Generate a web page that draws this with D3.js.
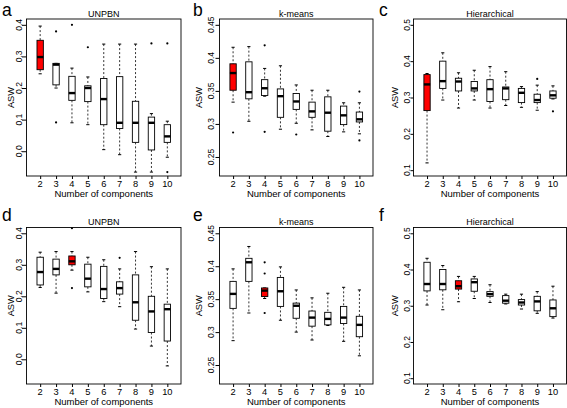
<!DOCTYPE html>
<html><head><meta charset="utf-8">
<script src="https://cdn.jsdelivr.net/npm/d3@7"></script>
<style>body{margin:0;background:#fff}svg{display:block}text{font-family:"Liberation Sans",Arial,sans-serif}</style>
</head><body>
<svg id="chart" width="567" height="408"></svg>
<script>
const categories = ["2","3","4","5","6","7","8","9","10"];
const panelLetters = ["a","b","c","d","e","f"];
const panelTitles = ["UNPBN","k-means","Hierarchical","UNPBN","k-means","Hierarchical"];
const yTicksA = [0.0,0.1,0.2,0.3,0.4];
const yTicksB = [0.25,0.3,0.35,0.4,0.45];
const yTicksC = [0.1,0.2,0.3,0.4,0.5];
const yLimA = [-0.06,0.40];
const yLimB = [0.23,0.45];
const yLimC = [0.10,0.50];
const highlight = [0,0,0,2,2,2];
// [lower whisker, Q1, median, Q3, upper whisker]
const statsA = [[0.245,0.258,0.298,0.351,0.396],[0.200,0.210,0.274,0.278,0.278],[0.090,0.161,0.184,0.237,0.263],[0.084,0.157,0.200,0.207,0.235],[0.005,0.084,0.165,0.230,0.339],[-0.011,0.072,0.090,0.236,0.339],[-0.066,0.028,0.090,0.158,0.339],[-0.066,0.004,0.090,0.108,0.119],[-0.019,0.028,0.047,0.084,0.095]];
const outA = [[],[0.379,0.091],[0.400],[0.329],[],[],[],[0.341],[0.341,-0.066]];
const statsB = [[0.333,0.351,0.377,0.391,0.416],[0.304,0.338,0.348,0.394,0.417],[0.342,0.343,0.354,0.367,0.384],[0.292,0.310,0.342,0.353,0.388],[0.301,0.322,0.334,0.346,0.359],[0.291,0.310,0.319,0.333,0.351],[0.281,0.289,0.317,0.341,0.351],[0.288,0.299,0.313,0.327,0.332],[0.285,0.303,0.307,0.318,0.332]];
const outB = [[0.287],[],[0.419,0.288],[],[0.284],[],[],[],[0.349,0.275]];
const statsC = [[0.120,0.264,0.336,0.363,0.366],[0.293,0.325,0.345,0.400,0.423],[0.271,0.318,0.344,0.353,0.368],[0.293,0.318,0.325,0.344,0.375],[0.271,0.289,0.323,0.349,0.385],[0.278,0.294,0.325,0.329,0.371],[0.273,0.286,0.313,0.325,0.330],[0.265,0.286,0.293,0.309,0.334],[0.296,0.298,0.306,0.318,0.332]];
const outC = [[],[],[],[],[],[],[],[0.351],[0.262]];
const statsD = [[0.228,0.236,0.277,0.324,0.340],[0.210,0.268,0.287,0.318,0.342],[0.283,0.300,0.311,0.328,0.342],[0.214,0.230,0.256,0.302,0.324],[0.183,0.193,0.223,0.295,0.316],[0.167,0.207,0.226,0.246,0.287],[0.096,0.124,0.181,0.268,0.342],[0.042,0.085,0.152,0.200,0.294],[-0.021,0.058,0.159,0.175,0.287]];
const outD = [[],[],[0.416,0.226],[],[],[0.322],[],[],[]];
const statsE = [[0.287,0.336,0.358,0.377,0.396],[0.329,0.377,0.406,0.412,0.430],[0.351,0.354,0.363,0.367,0.367],[0.318,0.339,0.362,0.383,0.399],[0.300,0.321,0.340,0.344,0.364],[0.288,0.309,0.322,0.332,0.352],[0.310,0.311,0.320,0.330,0.359],[0.286,0.313,0.322,0.339,0.368],[0.264,0.293,0.311,0.324,0.364]];
const outE = [[],[],[0.406,0.389,0.329],[],[],[],[],[],[]];
const statsF = [[0.302,0.341,0.360,0.420,0.431],[0.289,0.344,0.360,0.400,0.411],[0.311,0.346,0.354,0.369,0.381],[0.320,0.340,0.365,0.374,0.381],[0.309,0.326,0.332,0.339,0.358],[0.305,0.307,0.314,0.328,0.332],[0.291,0.302,0.309,0.317,0.332],[0.279,0.286,0.312,0.326,0.339],[0.266,0.270,0.293,0.316,0.354]];
const outF = [[],[],[],[],[],[],[],[],[]];

const svg = d3.select("#chart");
const panels = [
  {stats:statsA,out:outA,ticks:yTicksA,lim:yLimA,fmt:d3.format(".1f")},
  {stats:statsB,out:outB,ticks:yTicksB,lim:yLimB,fmt:d=>String(+d.toFixed(2))},
  {stats:statsC,out:outC,ticks:yTicksC,lim:yLimC,fmt:d3.format(".1f")},
  {stats:statsD,out:outD,ticks:yTicksA,lim:yLimA,fmt:d3.format(".1f")},
  {stats:statsE,out:outE,ticks:yTicksB,lim:yLimB,fmt:d=>String(+d.toFixed(2))},
  {stats:statsF,out:outF,ticks:yTicksC,lim:yLimC,fmt:d3.format(".1f")}
];
// layout
const colX = [[26.5,181],[219.5,373],[413.5,566.5]];
const rowY = [[19,176],[227.5,384]];
const tickLabOff = [8,9,6.5];
const ylabOff = [16,21,19];
const tickLen = [4.5,4,3];
const letterX = [2,193,379];
const letterY = [16,221];

function ext(l){const r=(l[1]-l[0])*0.04;return [l[0]-r,l[1]+r];}

panels.forEach((p,i)=>{
  const c=i%3, r=Math.floor(i/3);
  const [x0,x1]=colX[c], [y0,y1]=rowY[r];
  const x=d3.scaleLinear().domain([0.14,9.86]).range([x0,x1]);
  const y=d3.scaleLinear().domain(ext(p.lim)).range([y1,y0]);
  const g=svg.append("g");
  const bw=x(1.4)-x(1);
  // y axis
  const ya=g.append("g").attr("transform",`translate(${x0},0)`)
    .call(d3.axisLeft(y).tickValues(p.ticks).tickSize(tickLen[c]).tickFormat(""));
  ya.select(".domain").remove();
  ya.selectAll("line").attr("stroke","#000");
  g.selectAll(".ylab").data(p.ticks).join("text")
    .attr("transform",d=>`translate(${x0-tickLabOff[c]+3},${y(d)}) rotate(-90)`)
    .attr("text-anchor","middle").attr("font-size",8.5).text(p.fmt);
  // x axis
  const xa=g.append("g").attr("transform",`translate(0,${y1})`)
    .call(d3.axisBottom(x).tickValues(d3.range(1,10)).tickSize(3).tickFormat(""));
  xa.select(".domain").remove();
  xa.selectAll("line").attr("stroke","#000");
  g.selectAll(".xlab").data(categories).join("text")
    .attr("x",(d,k)=>x(k+1)).attr("y",y1+11).attr("text-anchor","middle")
    .attr("font-size",9.3).text(d=>d);
  g.append("text").attr("x",(x0+x1)/2).attr("y",y1+21).attr("text-anchor","middle")
    .attr("font-size",9.5).text("Number of components");
  g.append("text").attr("transform",`translate(${x0-ylabOff[c]+3},${(y0+y1)/2}) rotate(-90)`)
    .attr("text-anchor","middle").attr("font-size",9.3).text("ASW");
  g.append("text").attr("x",(x0+x1)/2).attr("y",y0-2.5).attr("text-anchor","middle")
    .attr("font-size",9).text(panelTitles[i]);
  g.append("text").attr("x",letterX[c]).attr("y",letterY[r]).attr("font-size",17.5)
    .text(panelLetters[i]);
  // boxes
  p.stats.forEach((s,k)=>{
    const cx=x(k+1);
    const [lo,q1,md,q3,hi]=s;
    const wg=g.append("g");
    wg.append("line").attr("x1",cx).attr("x2",cx).attr("y1",y(hi)).attr("y2",y(q3))
      .attr("stroke","#000").attr("stroke-width",0.8).attr("stroke-dasharray","2,2");
    wg.append("line").attr("x1",cx).attr("x2",cx).attr("y1",y(q1)).attr("y2",y(lo))
      .attr("stroke","#000").attr("stroke-width",0.8).attr("stroke-dasharray","2,2");
    [lo,hi].forEach(v=>wg.append("line").attr("x1",cx-bw/4).attr("x2",cx+bw/4)
      .attr("y1",y(v)).attr("y2",y(v)).attr("stroke","#000").attr("stroke-width",1));
    wg.append("rect").attr("x",cx-bw/2).attr("width",bw).attr("y",y(q3))
      .attr("height",Math.max(0,y(q1)-y(q3)))
      .attr("fill",k===highlight[i]?"#ff0000":"#fff").attr("stroke","#000").attr("stroke-width",0.9);
    wg.append("line").attr("x1",cx-bw/2).attr("x2",cx+bw/2).attr("y1",y(md)).attr("y2",y(md))
      .attr("stroke","#000").attr("stroke-width",2.4);
    p.out[k].forEach(v=>wg.append("circle").attr("cx",cx).attr("cy",y(v)).attr("r",1.1).attr("fill","#000"));
  });
  // frame
  g.append("rect").attr("x",x0).attr("y",y0).attr("width",x1-x0).attr("height",y1-y0)
    .attr("fill","none").attr("stroke","#000").attr("stroke-width",0.9);
});
</script>
</body></html>
